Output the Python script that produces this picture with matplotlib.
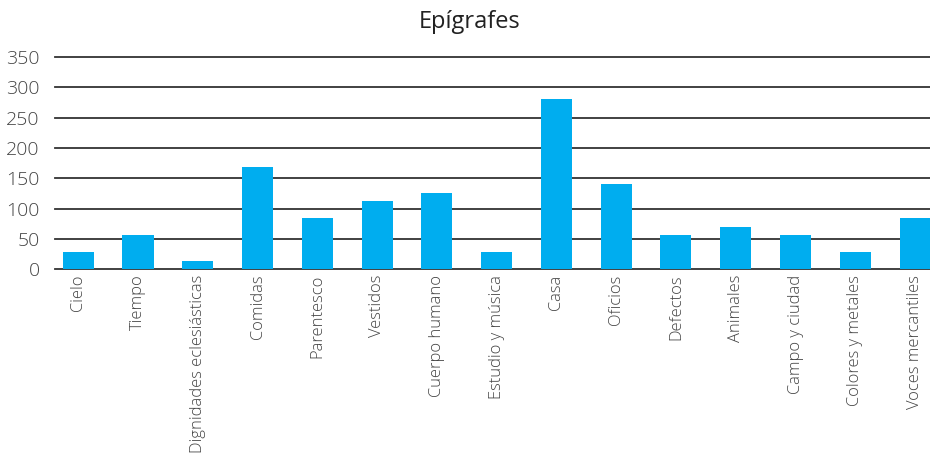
import numpy as np
import matplotlib
matplotlib.use("Agg")
from matplotlib import pyplot as plt

categories = ['Cielo', 'Tiempo', 'Dignidades eclesiásticas', 'Comidas', 'Parentesco',
              'Vestidos', 'Cuerpo humano', 'Estudio y música', 'Casa', 'Oficios',
              'Defectos', 'Animales', 'Campo y ciudad', 'Colores y metales',
              'Voces mercantiles']
values = [28, 56, 14, 168, 84, 112, 126, 28, 281, 140, 56, 70, 56, 28, 84]
y_ticks = [0, 50, 100, 150, 200, 250, 300, 350]

plt.rcParams['font.family'] = ['Open Sans', 'DejaVu Sans']

fig = plt.figure(figsize=(9.30, 4.57), dpi=100)
ax = fig.add_axes([0.059, 0.411, 0.941, 0.464])

x = np.arange(len(categories))
ax.bar(x, values, width=0.52, color='#00adef', zorder=3)

ax.set_ylim(0, 350)
ax.set_yticks(y_ticks)
ax.set_xlim(-0.39, len(categories) - 0.75)
ax.set_xticks(x)
ax.set_xticklabels(categories, rotation=90, fontsize=11.9, color='#444444', fontweight='light')
ax.tick_params(axis='y', labelsize=14, colors='#444444', length=0, pad=11)
ax.tick_params(axis='x', length=0, pad=4)
for lbl in ax.get_yticklabels():
    lbl.set_fontweight('light')

ax.yaxis.grid(True, color='#333333', linewidth=1.3, zorder=0)
for gl in ax.get_ygridlines():
    gl.set_clip_on(False)
for s in ax.spines.values():
    s.set_visible(False)

fig.text(0.505, 0.952, 'Epígrafes', ha='center', va='center', fontsize=17,
         fontweight='medium', color='#222222')

fig.savefig('out.png', dpi=100)
